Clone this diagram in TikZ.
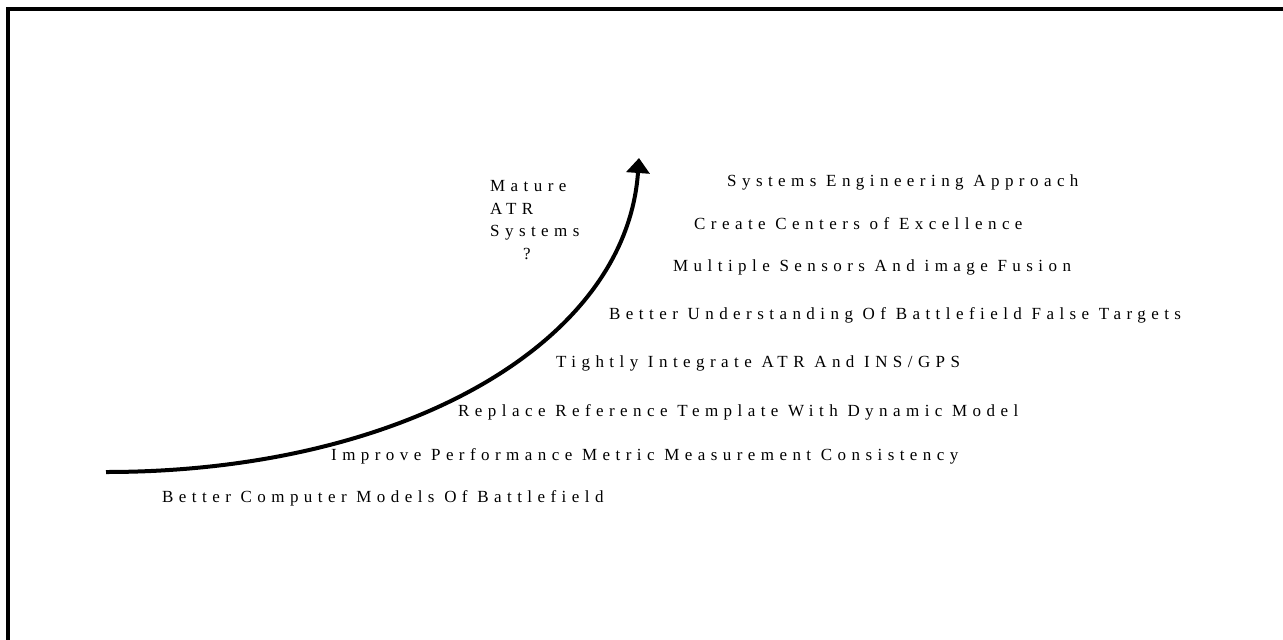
\documentclass[tikz,border=0pt]{standalone}
\usepackage{fontspec}
\newfontfamily\spaced[LetterSpace=32]{Liberation Serif}
\usepackage{tikz}
\usetikzlibrary{arrows.meta}

\tikzset{goal/.style={anchor=base west,inner sep=0pt,font=\spaced\fontsize{17}{22.5}\selectfont}}

\begin{document}
\begin{tikzpicture}[x=1pt,y=-1pt]
  \useasboundingbox (0,0) rectangle (1283,640);
  \draw[line width=4.5pt] (8,640) |- (1283,9);
  \node[goal,align=left] (n00) at (490,259) {Mature\\ATR\\Systems\\\hspace{33pt}?};
  \node[goal] (n01) at (162,502) {Better Computer Models Of Battlefield};
  \node[goal] (n02) at (331,460) {Improve Performance Metric Measurement Consistency};
  \node[goal] (n03) at (458,416) {Replace Reference Template With Dynamic Model};
  \node[goal] (n04) at (556,367) {Tightly Integrate ATR And INS/GPS};
  \node[goal] (n05) at (609,319) {Better Understanding Of Battlefield False Targets};
  \node[goal] (n06) at (673,271) {Multiple Sensors And image Fusion};
  \node[goal] (n07) at (694,229) {Create Centers of Excellence};
  \node[goal] (n08) at (727,186) {Systems Engineering Approach};
  \coordinate (c0) at (106,472);
  \coordinate (c1) at (639,158);
  \draw[line width=4pt,-{Triangle[width=23pt,length=15pt]}]
    (c0) .. controls (400,472) and (626,345) .. (c1);
\end{tikzpicture}
\end{document}
